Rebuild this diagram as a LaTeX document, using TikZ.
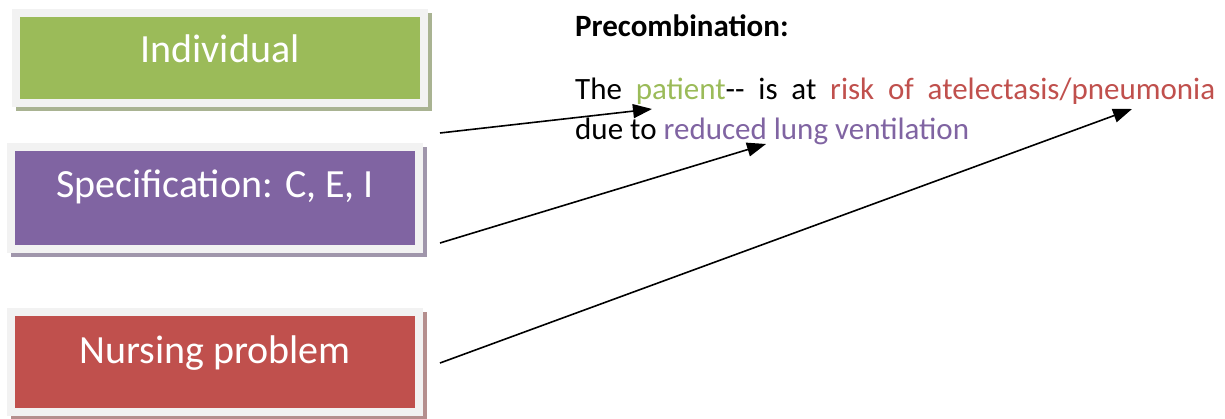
\documentclass[tikz,border=0pt]{standalone}
\usepackage{fontspec}
\setmainfont{Carlito}
\usetikzlibrary{arrows.meta}
\definecolor{ogreen}{HTML}{9BBB59}
\definecolor{opurple}{HTML}{8064A2}
\definecolor{ored}{HTML}{C0504D}
\definecolor{boxframe}{HTML}{F2F2F2}
\begin{document}
\begin{tikzpicture}[x=1pt,y=-1pt,
  box/.style={fill=#1, draw=boxframe, line width=8pt, minimum width=408pt,
    inner sep=0pt, text=white, font=\fontsize{40}{44}\selectfont,
    anchor=north west,
    preaction={draw=#1!45!gray!75!white, fill=#1!45!gray!75!white,
      line width=8pt, transform canvas={shift={(3.5pt,-4.5pt)}}}},
  conn/.style={line width=1.6pt, -{Triangle[length=19pt,width=14pt]}}]
\useasboundingbox (0,0) rectangle (1225,419);

% category boxes (anchored at the outer edge of the frame)
\node[box=ogreen, text height=50pt, text depth=40pt] (ind) at (12,9) {Individual};
\node[box=opurple, text height=51pt, text depth=51pt] (spec) at (7,143) {Specification: C, E, I};
\node[box=ored, text height=51pt, text depth=49pt] (prob) at (7,308) {Nursing problem};

% precombined statement
\node[anchor=base west, inner sep=0pt, font=\bfseries\fontsize{31}{34}\selectfont]
  (head) at (575,37) {Precombination:};
\node[anchor=base west, inner sep=0pt, text width=640pt, align=justify,
  font=\fontsize{31}{40}\selectfont] (stmt) at (575,100)
  {The \textcolor{ogreen}{patient}{-}{-} is at \textcolor{ored}{risk of atelectasis/pneumonia}\linebreak
   due to \textcolor{opurple}{reduced lung ventilation}};

% connector end points
\coordinate (s1) at (440,133);
\coordinate (e1) at (652,109);
\coordinate (s2) at (440,243);
\coordinate (e2) at (766,144);
\coordinate (s3) at (440,363);
\coordinate (e3) at (1132,109);

\draw[conn] (s1) -- (e1);
\draw[conn] (s2) -- (e2);
\draw[conn] (s3) -- (e3);
\end{tikzpicture}
\end{document}
